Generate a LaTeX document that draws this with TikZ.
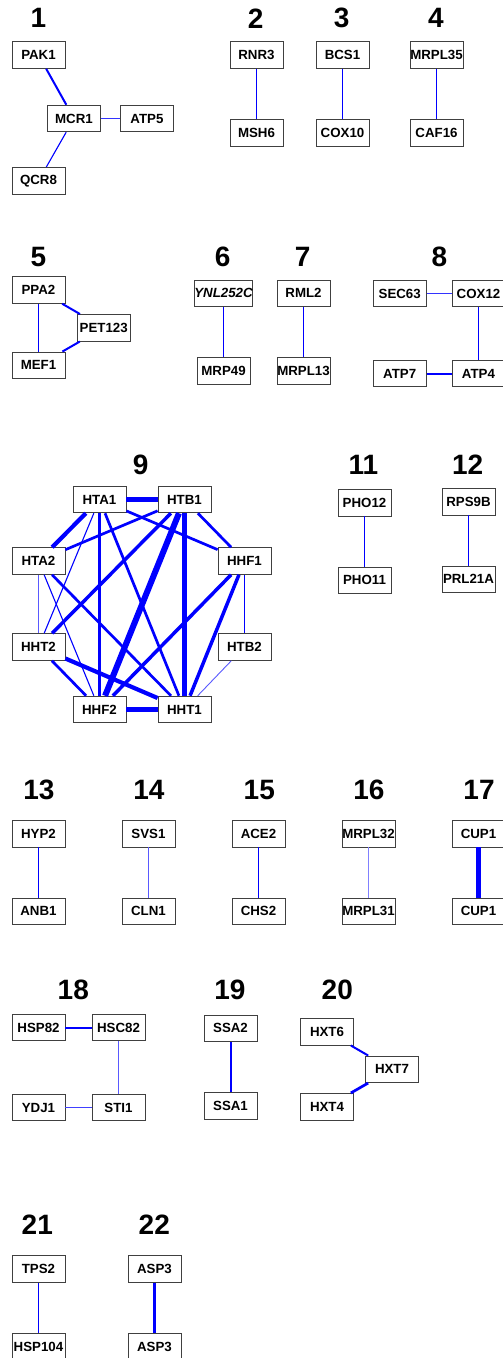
\documentclass[tikz,border=0pt]{standalone}
\usepackage{fontspec}
\setmainfont{Liberation Sans}
\begin{document}
\begin{tikzpicture}[x=1pt,y=-1pt,
  gene/.style={draw=black!75,line width=0.8pt,fill=white,minimum width=53pt,minimum height=26.7pt,inner sep=0pt,font=\fontsize{13.3}{14}\selectfont\bfseries},
  glab/.style={inner sep=0pt,font=\fontsize{28}{30}\selectfont\bfseries},
  ea/.style={draw=blue!65,line width=0.9pt},
  eb/.style={draw=blue,line width=1.1pt},
  ec/.style={draw=blue,line width=1.5pt},
  ed/.style={draw=blue,line width=2pt},
  ee/.style={draw=blue,line width=2.7pt},
  ef/.style={draw=blue,line width=3.5pt},
  eg/.style={draw=blue,line width=4.2pt},
  eh/.style={draw=blue,line width=5pt},
  ei/.style={draw=blue,line width=6pt}]
\useasboundingbox (0,0) rectangle (503,1358);
% ---- group 1
\node[glab] (l1) at (38.5,18.3) {1};
\node[gene] (pak1) at (38.5,55) {PAK1};
\node[gene] (mcr1) at (74,118.5) {MCR1};
\node[gene] (atp5) at (147,118.5) {ATP5};
\node[gene] (qcr8) at (38.5,180.7) {QCR8};
\draw[ed] (pak1) -- (mcr1);
\draw[draw=blue!80,line width=1.3pt] (mcr1) -- (atp5);
\draw[eb] (mcr1) -- (qcr8);
% ---- group 2
\node[glab] (l2) at (255.7,18.3) {2};
\node[gene] (rnr3) at (256.5,55) {RNR3};
\node[gene] (msh6) at (256.5,133) {MSH6};
\draw[eb] (rnr3) -- (msh6);
% ---- group 3
\node[glab] (l3) at (341.7,18.3) {3};
\node[gene] (bcs1) at (342.5,55) {BCS1};
\node[gene] (cox10) at (342.5,133) {COX10};
\draw[eb] (bcs1) -- (cox10);
% ---- group 4
\node[glab] (l4) at (436,18.3) {4};
\node[gene] (mrpl35) at (436.5,55) {MRPL35};
\node[gene] (caf16) at (436.5,133) {CAF16};
\draw[eb] (mrpl35) -- (caf16);
% ---- group 5
\node[glab] (l5) at (38.3,256.7) {5};
\node[gene] (ppa2) at (38.5,290) {PPA2};
\node[gene] (pet123) at (103.7,327.8) {PET123};
\node[gene] (mef1) at (38.5,365.3) {MEF1};
\draw[ec] (ppa2) -- (mef1);
\draw[ed] (ppa2) -- (pet123);
\draw[ed] (mef1) -- (pet123);
% ---- group 6
\node[glab] (l6) at (222.7,256.7) {6};
\node[gene] (ynl) at (223.5,293.3) {\itshape YNL252C};
\node[gene] (mrp49) at (223.5,370.8) {MRP49};
\draw[eb] (ynl) -- (mrp49);
% ---- group 7
\node[glab] (l7) at (302.7,256.7) {7};
\node[gene] (rml2) at (303.5,293.3) {RML2};
\node[gene] (mrpl13) at (303.5,370.8) {MRPL13};
\draw[ec] (rml2) -- (mrpl13);
% ---- group 8
\node[glab] (l8) at (439.3,256.7) {8};
\node[gene] (sec63) at (399.7,293.5) {SEC63};
\node[gene] (cox12) at (478.5,293.5) {COX12};
\node[gene] (atp7) at (399.7,373.5) {ATP7};
\node[gene] (atp4) at (478.5,373.5) {ATP4};
\draw[draw=blue!80,line width=1.3pt] (sec63) -- (cox12);
\draw[ec] (cox12) -- (atp4);
\draw[ed] (atp7) -- (atp4);
% ---- group 9
\node[glab] (l9) at (140.7,465) {9};
\node[gene] (hta1) at (99.5,499.5) {HTA1};
\node[gene] (htb1) at (184.5,499.5) {HTB1};
\node[gene] (hta2) at (38.5,561) {HTA2};
\node[gene] (hhf1) at (244.5,561) {HHF1};
\node[gene] (hht2) at (38.5,647) {HHT2};
\node[gene] (htb2) at (244.5,647) {HTB2};
\node[gene] (hhf2) at (99.5,709.5) {HHF2};
\node[gene] (hht1) at (184.5,709.5) {HHT1};
\draw[eg] (hta1) -- (htb1);
\draw[eg] (hta1) -- (hta2);
\draw[eb] (hta1) -- (hht2);
\draw[ef] (hta1) -- (hhf2);
\draw[ee] (hta1) -- (hht1);
\draw[ee] (hta1) -- (hhf1);
\draw[ee] (htb1) -- (hta2);
\draw[ef] (htb1) -- (hht2);
\draw[ei] (htb1) -- (hhf2);
\draw[eh] (htb1) -- (hht1);
\draw[ee] (htb1) -- (hhf1);
\draw[ea] (hta2) -- (hht2);
\draw[eb] (hta2) -- (hhf2);
\draw[ee] (hta2) -- (hht1);
\draw[ef] (hhf1) -- (hhf2);
\draw[ef] (hhf1) -- (hht1);
\draw[ec] (hhf1) -- (htb2);
\draw[ee] (hht2) -- (hhf2);
\draw[eg] (hht2) -- (hht1);
\draw[ea] (htb2) -- (hht1);
\draw[eg] (hhf2) -- (hht1);
% ---- group 11
\node[glab] (l11) at (363.3,465) {11};
\node[gene] (pho12) at (364.5,502.7) {PHO12};
\node[gene] (pho11) at (364.5,580.3) {PHO11};
\draw[eb] (pho12) -- (pho11);
% ---- group 12
\node[glab] (l12) at (467.7,465) {12};
\node[gene] (rps9b) at (468.5,501.7) {RPS9B};
\node[gene] (prl21a) at (468.5,579.3) {PRL21A};
\draw[ec] (rps9b) -- (prl21a);
% ---- groups 13-17
\node[glab] (l13) at (39,790) {13};
\node[gene] (hyp2) at (38.5,833.7) {HYP2};
\node[gene] (anb1) at (38.5,911.3) {ANB1};
\draw[ec] (hyp2) -- (anb1);
\node[glab] (l14) at (149,790) {14};
\node[gene] (svs1) at (148.5,833.7) {SVS1};
\node[gene] (cln1) at (148.5,911.3) {CLN1};
\draw[ea] (svs1) -- (cln1);
\node[glab] (l15) at (259.3,790) {15};
\node[gene] (ace2) at (258.5,833.7) {ACE2};
\node[gene] (chs2) at (258.5,911.3) {CHS2};
\draw[ec] (ace2) -- (chs2);
\node[glab] (l16) at (369,790) {16};
\node[gene] (mrpl32) at (368.5,833.7) {MRPL32};
\node[gene] (mrpl31) at (368.5,911.3) {MRPL31};
\draw[draw=blue!50,line width=1pt] (mrpl32) -- (mrpl31);
\node[glab] (l17) at (479,790) {17};
\node[gene] (cup1a) at (478.5,833.7) {CUP1};
\node[gene] (cup1b) at (478.5,911.3) {CUP1};
\draw[eh] (cup1a) -- (cup1b);
% ---- group 18
\node[glab] (l18) at (73.3,990) {18};
\node[gene] (hsp82) at (38.5,1027.5) {HSP82};
\node[gene] (hsc82) at (118.5,1027.5) {HSC82};
\node[gene] (ydj1) at (38.5,1107.5) {YDJ1};
\node[gene] (sti1) at (118.5,1107.5) {STI1};
\draw[ed] (hsp82) -- (hsc82);
\draw[draw=blue!65,line width=1pt] (hsc82) -- (sti1);
\draw[draw=blue!75,line width=1.3pt] (ydj1) -- (sti1);
% ---- group 19
\node[glab] (l19) at (230,990) {19};
\node[gene] (ssa2) at (230.5,1028.3) {SSA2};
\node[gene] (ssa1) at (230.5,1106) {SSA1};
\draw[ed] (ssa2) -- (ssa1);
% ---- group 20
\node[glab] (l20) at (337.3,990) {20};
\node[gene] (hxt6) at (327,1031.7) {HXT6};
\node[gene] (hxt7) at (392,1069.3) {HXT7};
\node[gene] (hxt4) at (327,1106.7) {HXT4};
\draw[ed] (hxt6) -- (hxt7);
\draw[ee] (hxt4) -- (hxt7);
% ---- groups 21-22
\node[glab] (l21) at (37.3,1225) {21};
\node[gene] (tps2) at (38.5,1269) {TPS2};
\node[gene] (hsp104) at (38.5,1346.7) {HSP104};
\draw[eb] (tps2) -- (hsp104);
\node[glab] (l22) at (154.3,1225) {22};
\node[gene] (asp3a) at (154.5,1269) {ASP3};
\node[gene] (asp3b) at (154.5,1346.7) {ASP3};
\draw[ef] (asp3a) -- (asp3b);
\end{tikzpicture}
\end{document}
